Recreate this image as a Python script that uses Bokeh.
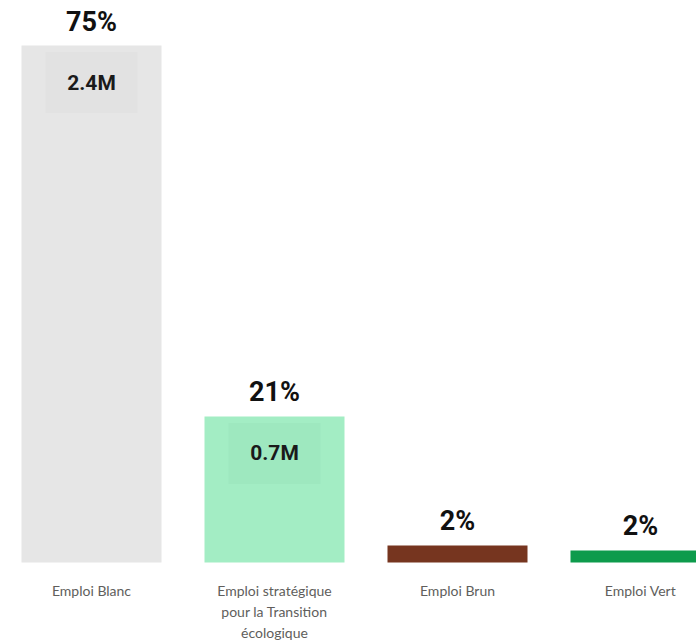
from bokeh.plotting import figure
from bokeh.models import Range1d, ColumnDataSource
from bokeh.embed import file_html
from bokeh.resources import INLINE
from bokeh.core.properties import value

# ---- data ----
categories = ["Emploi Blanc",
              "Emploi stratégique\npour la Transition\nécologique",
              "Emploi Brun",
              "Emploi Vert"]
values_m = [2.40, 0.678, 0.079, 0.056]
pct_labels = ["75%", "21%", "2%", "2%"]
inner_labels = ["2.4M", "0.7M"]
bar_colors = ["#E6E6E6", "#A3EDC4", "#76351F", "#0D9B4C"]
box_colors = ["#E2E2E2", "#9EE8BF"]

# ---- layout ----
W, H = 696, 643
PX_PER_M = 215.4
BASE_PX = 562           # baseline distance from frame top
SLOT_PX = 183
FIRST_CENTER_PX = 91    # first bar center from frame left

x_start = -FIRST_CENTER_PX / SLOT_PX
x_end = (W - FIRST_CENTER_PX) / SLOT_PX
y_end = BASE_PX / PX_PER_M
y_start = -(H - BASE_PX) / PX_PER_M

xs = list(range(len(categories)))

p = figure(width=W, height=H, output_backend="svg", toolbar_location=None,
           x_range=Range1d(x_start, x_end), y_range=Range1d(y_start, y_end),
           min_border=0, min_border_left=0, min_border_right=0,
           min_border_top=0, min_border_bottom=0)
p.axis.visible = False
p.grid.visible = False
p.outline_line_color = None
p.background_fill_color = "white"
p.border_fill_color = "white"

src = ColumnDataSource(dict(x=xs, top=values_m, color=bar_colors,
                            pct=pct_labels, cat=categories,
                            zero=[0] * len(xs)))

p.vbar(x="x", top="top", bottom=0, width=140 / SLOT_PX, fill_color="color",
       line_color=None, source=src)

# inner boxes with value labels
box_y = [v - 37 / PX_PER_M for v in values_m[:2]]
inner_src = ColumnDataSource(dict(x=xs[:2], y=box_y, lab=inner_labels,
                                  color=box_colors))
p.rect(x="x", y="y", width=92, height=61, width_units="screen",
       height_units="screen", fill_color="color", line_color=None,
       source=inner_src)
p.text(x="x", y="y", text="lab", source=inner_src, text_align="center",
       text_baseline="middle", text_font=value("Roboto"),
       text_font_style="bold", text_font_size="21px", text_color="#1a1a1a")

# percentage labels
p.text(x="x", y="top", text="pct", source=src, text_align="center",
       text_baseline="bottom", y_offset=-8, text_font=value("Roboto"),
       text_font_style="bold", text_font_size="27px", text_color="#111111")

# category labels
p.text(x="x", y="zero", text="cat", source=src, text_align="center",
       text_baseline="top", y_offset=19, text_font=value("Lato"),
       text_font_size="14px", text_color="#605E5C", text_line_height=1.25)

open("out.html", "w").write(file_html(p, INLINE))
